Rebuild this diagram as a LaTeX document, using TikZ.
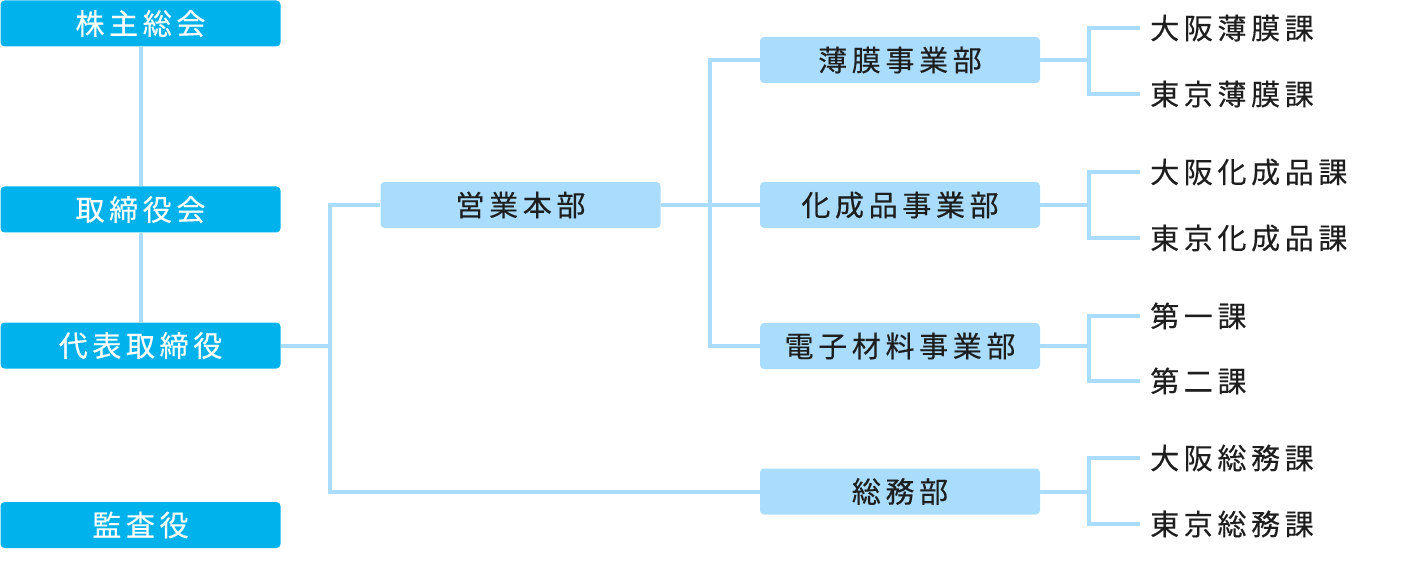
\documentclass[tikz,border=0pt]{standalone}
\usepackage{fontspec}
\newfontfamily\jp[LetterSpace=16,FakeBold=0.3]{Noto Sans CJK JP}
\definecolor{darkbox}{HTML}{00B2EB}
\definecolor{lightbox}{HTML}{A9DCFD}
\definecolor{linec}{HTML}{A9DCFD}
\definecolor{txt}{HTML}{1E1E1E}
\begin{document}
\begin{tikzpicture}[x=1pt,y=-1pt,
  topbox/.style={rectangle, rounded corners=4pt, fill=darkbox, minimum width=280pt, minimum height=46pt, inner sep=0pt, text=white, font=\jp\fontsize{29}{32}\selectfont},
  deptbox/.style={rectangle, rounded corners=4pt, fill=lightbox, minimum width=280pt, minimum height=46pt, inner sep=0pt, text=txt, font=\jp\fontsize{29}{32}\selectfont},
  sect/.style={anchor=west, inner xsep=10pt, inner ysep=0pt, text=txt, font=\jp\fontsize{29}{32}\selectfont},
  conn/.style={draw=linec, line width=4pt}]
\useasboundingbox (0,0) rectangle (1419,572);
% left column
\node[topbox] (s1) at (140.5,23.5) {株主総会};
\node[topbox] (s2) at (140.5,209.5) {取締役会};
\node[topbox] (s3) at (140.5,345.5) {代表取締役};
\node[topbox] (s4) at (140.5,525) {監査役};
% departments
\node[deptbox] (eig) at (520.5,205) {営業本部};
\node[deptbox] (hak) at (900,60) {薄膜事業部};
\node[deptbox] (kas) at (900,205) {化成品事業部};
\node[deptbox] (den) at (900,346) {電子材料事業部};
\node[deptbox] (som) at (900,491.5) {総務部};
% sections
\node[sect] (h1) at (1140,28) {大阪薄膜課};
\node[sect] (h2) at (1140,94) {東京薄膜課};
\node[sect] (k1) at (1140,172) {大阪化成品課};
\node[sect] (k2) at (1140,238) {東京化成品課};
\node[sect] (d1) at (1140,316) {第一課};
\node[sect] (d2) at (1140,381) {第二課};
\node[sect] (g1) at (1140,458) {大阪総務課};
\node[sect] (g2) at (1140,524) {東京総務課};
% hubs
\coordinate (hA) at (330,345.5);
\coordinate (hB) at (710,205);
\coordinate (hH) at (1088.5,60);
\coordinate (hK) at (1088.5,205);
\coordinate (hD) at (1088.5,346);
\coordinate (hG) at (1088.5,491.5);
% connectors
\draw[conn] (s1.south) -- (s2.north);
\draw[conn] (s2.south) -- (s3.north);
\draw[conn] (s3.east) -- (hA);
\draw[conn] (hA) |- (eig.west);
\draw[conn] (hA) |- (som.west);
\draw[conn] (eig.east) -- (hB);
\draw[conn] (hB) |- (hak.west);
\draw[conn] (hB) -- (kas.west);
\draw[conn] (hB) |- (den.west);
\draw[conn] (hak.east) -- (hH);
\draw[conn] (h1.west) -| (hH) |- (h2.west);
\draw[conn] (kas.east) -- (hK);
\draw[conn] (k1.west) -| (hK) |- (k2.west);
\draw[conn] (den.east) -- (hD);
\draw[conn] (d1.west) -| (hD) |- (d2.west);
\draw[conn] (som.east) -- (hG);
\draw[conn] (g1.west) -| (hG) |- (g2.west);
\end{tikzpicture}
\end{document}
